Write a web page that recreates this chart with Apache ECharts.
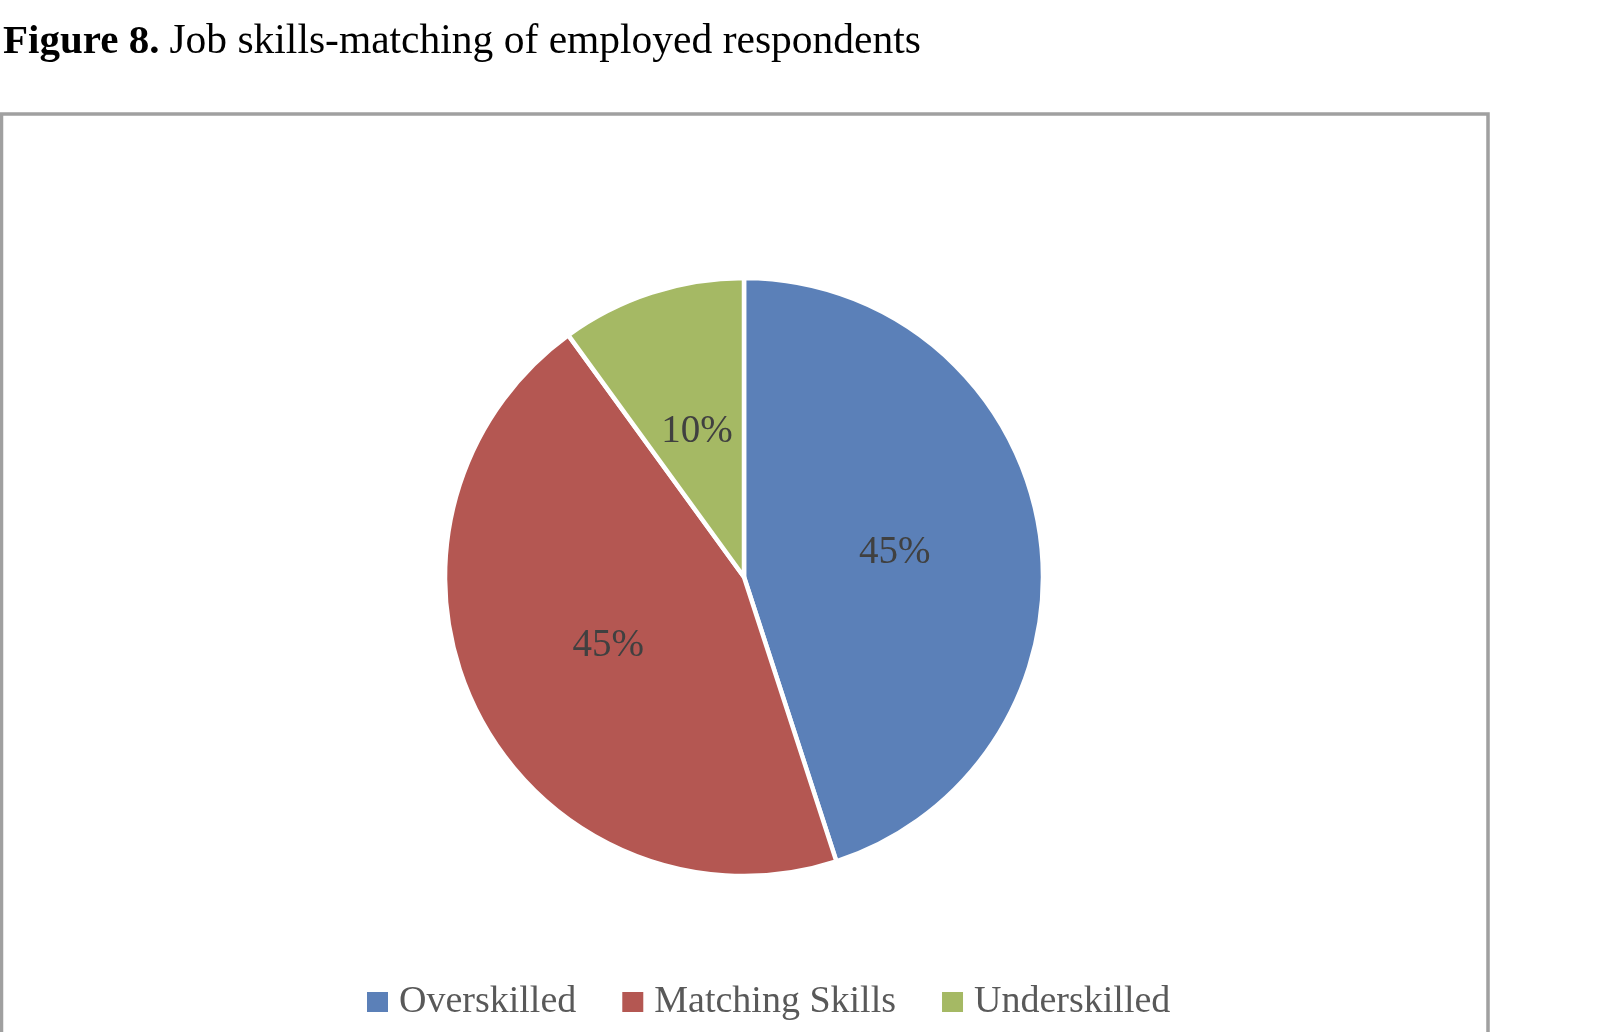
<!DOCTYPE html>
<html lang="en">
  <head>
    <meta charset="UTF-8" />
    <title>Job skills-matching</title>
    <script src="https://cdn.jsdelivr.net/npm/echarts@6/dist/echarts.min.js"></script>
    <style>
      html, body { margin: 0; padding: 0; background: #fff; }
    </style>
  </head>
  <body>
    <div id="main" style="width: 1600px; height: 1032px"></div>
    <script type="text/javascript">
      // chart data
      const categories = ["Overskilled", "Matching Skills", "Underskilled"];
      const shares = [45, 45, 10];
      const sliceColors = ["#5B80B8", "#B45752", "#A5B964"];

      const serif = "'Liberation Serif', 'Times New Roman', serif";

      let options = {
        animation: false,
        color: sliceColors,
        title: {
          left: -2,
          top: 16,
          text: "{b|Figure 8.}{n|Job skills-matching of employed respondents}",
          textStyle: {
            rich: {
              b: { fontFamily: serif, fontSize: 41, fontWeight: "bold", color: "#000" },
              n: {
                fontFamily: serif,
                fontSize: 41.5,
                fontWeight: "normal",
                color: "#000",
                padding: [0, 0, 0, 10],
              },
            },
          },
        },
        legend: {
          left: 360,
          top: 978,
          icon: "rect",
          itemWidth: 23,
          itemHeight: 22,
          itemGap: 44,
          textStyle: {
            fontFamily: serif,
            fontSize: 38,
            color: "#595959",
            padding: [0, 0, 0, 5],
          },
          data: categories,
        },
        graphic: [
          {
            type: "rect",
            shape: { x: 1.5, y: 114, width: 1486.5, height: 1000 },
            style: { fill: "none", stroke: "#a0a0a0", lineWidth: 3.5 },
            silent: true,
          },
        ],
        series: [
          {
            name: "Job skills-matching",
            type: "pie",
            center: [744, 577],
            radius: 299,
            startAngle: 90,
            clockwise: true,
            itemStyle: { borderColor: "#fff", borderWidth: 4.5 },
            label: {
              position: "inside",
              formatter: "{d}%",
              fontFamily: serif,
              fontSize: 39,
              color: "#404040",
            },
            labelLine: { show: false },
            emphasis: { disabled: true },
            data: categories.map((name, i) => ({ name: name, value: shares[i] })),
          },
        ],
      };

      let myChart = echarts.init(document.getElementById("main"));
      myChart.setOption(options);
    </script>
  </body>
</html>
